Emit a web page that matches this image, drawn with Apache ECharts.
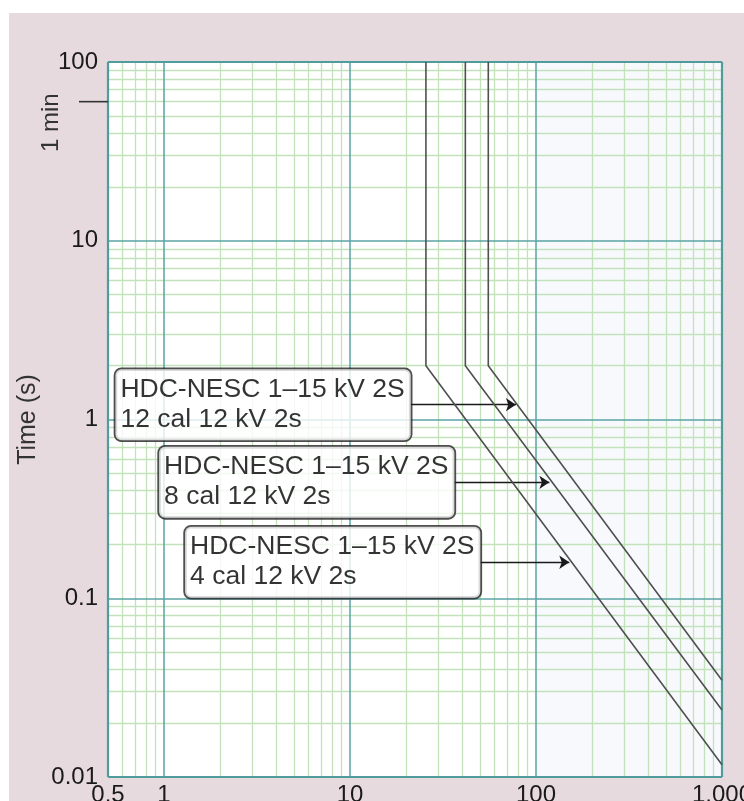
<!DOCTYPE html>
<html>
<head>
<meta charset="utf-8">
<script src="https://cdn.jsdelivr.net/npm/echarts@6/dist/echarts.min.js"></script>
<style>
  html, body { margin: 0; padding: 0; background: #ffffff; }
  #wrap { position: relative; width: 744px; height: 801px; overflow: hidden; }
  #paper { position: absolute; left: 9px; top: 13px; right: 0; bottom: 0; background: #e7dadf; }
  #chart { position: absolute; left: 0; top: 0; width: 744px; height: 801px; }
</style>
</head>
<body>
<div id="wrap"><div id="paper"></div><div id="chart"></div></div>
<script>
// Axis ranges (current in A, time in s)
const xRange = [0.5, 1000];
const yRange = [0.01, 100];

// Fuse time-current curves: vertical part at the pickup current,
// knee at kneeTime, then a straight log-log slope to the right edge.
const productName = 'HDC-NESC 1–15 kV 2S';
const curveLabels = ['12 cal 12 kV 2s', '8 cal 12 kV 2s', '4 cal 12 kV 2s'];
const pickupCurrent = [55.4, 41.7, 25.6];
const kneeTime = [2, 2, 2];
const endCurrent = [1000, 1000, 1000];
const endTime = [0.0348, 0.0237, 0.0117];
const topTime = [100, 100, 100];

// Callout arrows: time level, tail current (box edge), head current (on curve)
const arrowTime = [1.21, 0.445, 0.159];
const arrowTail = [21.2, 36.4, 50.2];
const arrowHead = [78, 118, 151];

// Marker on the time axis
const oneMinute = 60;

// Decade and sub-decade rulings of the log-log paper
const decadesX = [1, 10, 100];
const decadesY = [0.1, 1, 10];
const minorX = [];
[0.1, 1, 10, 100].forEach(d => { for (let k = 2; k <= 9; k++) { const v = +(k * d).toPrecision(6); if (v > xRange[0] && v < xRange[1]) minorX.push(v); } });
const minorY = [];
[0.01, 0.1, 1, 10].forEach(d => { for (let k = 2; k <= 9; k++) minorY.push(+(k * d).toPrecision(6)); });

const FONT = '"Liberation Sans", Arial, Helvetica, sans-serif';

function fmt(v) {
  const n = +(+v).toPrecision(6);
  if (n >= 1000) return n.toLocaleString('en-US');
  return String(n);
}

const chart = echarts.init(document.getElementById('chart'), null, { renderer: 'canvas' });

const series = [];

// faint tint on the right-hand decade band
series.push({
  type: 'line', data: [], silent: true, z: 0,
  markArea: {
    silent: true,
    itemStyle: { color: '#f7f9fc' },
    data: [[{ xAxis: 100, yAxis: yRange[0] }, { xAxis: 1000, yAxis: yRange[1] }]]
  }
});

// minor rulings
series.push({
  type: 'line', data: [], silent: true, z: 1,
  markLine: {
    silent: true, symbol: 'none', animation: false,
    label: { show: false },
    lineStyle: { color: '#c3e2bc', width: 1.3, type: 'solid' },
    data: minorX.map(v => ({ xAxis: v })).concat(minorY.map(v => ({ yAxis: v })))
  }
});

// decade rulings
series.push({
  type: 'line', data: [], silent: true, z: 2,
  markLine: {
    silent: true, symbol: 'none', animation: false,
    label: { show: false },
    lineStyle: { color: '#5aa3a6', width: 1.5, type: 'solid' },
    data: decadesX.map(v => ({ xAxis: v })).concat(decadesY.map(v => ({ yAxis: v })))
  }
});

// frame
series.push({
  type: 'line', data: [], silent: true, z: 3,
  markLine: {
    silent: true, symbol: 'none', animation: false,
    label: { show: false },
    lineStyle: { color: '#4e9d9c', width: 2.2, type: 'solid' },
    data: [{ xAxis: xRange[0] }, { xAxis: xRange[1] }, { yAxis: yRange[0] }, { yAxis: yRange[1] }]
  }
});

// fuse curves
for (let i = 0; i < pickupCurrent.length; i++) {
  series.push({
    name: curveLabels[i],
    type: 'line', z: 5, symbol: 'none', silent: true, animation: false,
    lineStyle: { color: '#505050', width: 1.6 },
    data: [[pickupCurrent[i], topTime[i]], [pickupCurrent[i], kneeTime[i]], [endCurrent[i], endTime[i]]]
  });
}

// callout arrows
series.push({
  type: 'line', data: [], silent: true, z: 6,
  markLine: {
    silent: true, animation: false,
    symbol: ['none', 'arrow'], symbolSize: 10,
    label: { show: false },
    lineStyle: { color: '#1a1a1a', width: 1.4, type: 'solid' },
    itemStyle: { color: '#111' },
    data: arrowTime.map((t, i) => [{ coord: [arrowTail[i], t] }, { coord: [arrowHead[i], t] }])
  }
});

// callout boxes, anchored at each arrow tail
series.push({
  type: 'scatter', z: 7, silent: true, animation: false,
  symbolSize: 0,
  data: arrowTime.map((t, i) => ({
    value: [arrowTail[i], t],
    label: { formatter: '{t|' + productName + '}\n{t|' + curveLabels[i] + '}' }
  })),
  label: {
    show: true, position: 'left', distance: 0,
    fontFamily: FONT, fontSize: 26.5, lineHeight: 30, color: '#000',
    backgroundColor: '#ffffff', borderColor: '#222', borderWidth: 1.8, borderRadius: 6,
    padding: [5, 6, 6, 5],
    rich: { t: { align: 'left', fontFamily: FONT, fontSize: 26.5, lineHeight: 30, color: '#000' } }
  }
});

chart.setOption({
  animation: false,
  grid: {
    left: 108, top: 62, width: 614, height: 715,
    outerBoundsMode: 'none', containLabel: false,
    show: true, backgroundColor: '#ffffff', borderWidth: 0
  },
  xAxis: {
    type: 'log', logBase: 10, min: xRange[0], max: xRange[1],
    axisLine: { show: false }, axisTick: { show: false }, splitLine: { show: false },
    axisLabel: {
      show: true, showMinLabel: true, showMaxLabel: true, hideOverlap: false,
      margin: 6, fontFamily: FONT, fontSize: 24, color: '#1a1a1a', formatter: fmt
    }
  },
  yAxis: {
    type: 'log', logBase: 10, min: yRange[0], max: yRange[1],
    name: 'Time (s)', nameLocation: 'middle', nameGap: 62, nameRotate: 90,
    nameTextStyle: { fontFamily: FONT, fontSize: 25, color: '#333' },
    axisLine: { show: false }, axisTick: { show: false }, splitLine: { show: false },
    axisLabel: {
      show: true, showMinLabel: true, showMaxLabel: true,
      margin: 10, fontFamily: FONT, fontSize: 24, color: '#1a1a1a', formatter: fmt
    }
  },
  series: series
});

// "1 min" marker on the time axis
const yMin = chart.convertToPixel({ yAxisIndex: 0 }, oneMinute);
const xLeft = chart.convertToPixel({ xAxisIndex: 0 }, xRange[0]);
chart.setOption({
  graphic: [
    {
      type: 'line', silent: true, z: 10,
      shape: { x1: xLeft - 29, y1: yMin, x2: xLeft, y2: yMin },
      style: { stroke: '#333', lineWidth: 1.6 }
    },
    {
      type: 'text', silent: true, z: 10,
      x: xLeft - 57, y: yMin + 21, rotation: Math.PI / 2,
      style: { text: '1 min', fontFamily: FONT, fontSize: 24, fill: '#333', align: 'center', verticalAlign: 'middle' }
    }
  ]
});
</script>
</body>
</html>
